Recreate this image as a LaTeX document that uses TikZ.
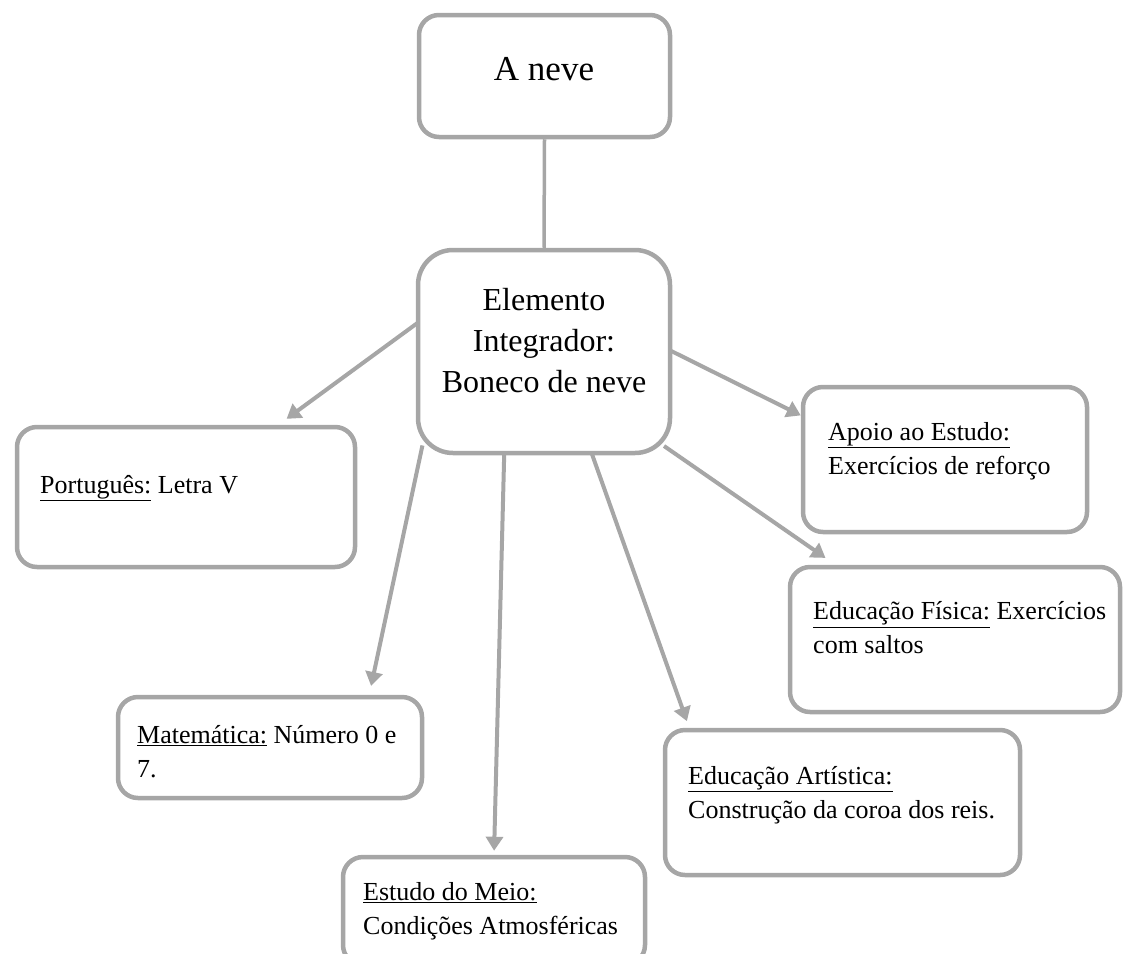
\documentclass[tikz,border=0pt]{standalone}
\usepackage{fontspec}
\setmainfont{Liberation Serif}
\usetikzlibrary{arrows.meta,backgrounds}
\definecolor{linegray}{RGB}{166,166,166}
\tikzset{
  box/.style={draw=linegray, fill=white, line width=4.5pt, rounded corners=20pt, inner sep=0pt},
  txt/.style={inner sep=0pt, align=left, anchor=west, font=\fontsize{26}{34}\selectfont},
  arr/.style={draw=linegray, line width=4pt, shorten <=-10pt, -{Triangle[length=14pt,width=17pt]}},
}
\begin{document}
\begin{tikzpicture}[x=1pt, y=-1pt]
  \useasboundingbox (0,0) rectangle (1129,953);
  \node [box, minimum width=251pt, minimum height=122pt] (aneve) at (544.5,76) {};
  \node [box, rounded corners=35pt, minimum width=252pt, minimum height=203pt] (elem) at (544,351.5) {};
  \node [box, minimum width=338pt, minimum height=140pt] (port) at (186,497) {};
  \node [box, minimum width=284pt, minimum height=145pt] (apoio) at (945,459.5) {};
  \node [box, minimum width=330pt, minimum height=145pt] (fis) at (955,639.5) {};
  \node [box, minimum width=304pt, minimum height=101pt] (mat) at (270,747.5) {};
  \node [box, minimum width=302pt, minimum height=108pt] (est) at (494,911) {};
  \node [box, minimum width=355pt, minimum height=145pt] (art) at (842.5,802.5) {};
  \node [inner sep=0pt, font=\fontsize{35}{40}\selectfont] (aneveTxt) at (544,69) {A neve};
  \node [inner sep=0pt, align=center, font=\fontsize{32}{41}\selectfont] (elemTxt) at (544,341) {Elemento\\Integrador:\\Boneco de neve};
  \node [txt] (portTxt) at (40,488) {\underline{Português:} Letra V};
  \node [txt] (apoioTxt) at (828,451) {\underline{Apoio ao Estudo:}\\Exercícios de reforço};
  \node [txt] (fisTxt) at (813,628) {\underline{Educação Física:} Exercícios\\com saltos};
  \node [txt] (matTxt) at (137,752) {\underline{Matemática:} Número 0 e\\7.};
  \node [txt] (estTxt) at (363,911) {\underline{Estudo do Meio:}\\Condições Atmosféricas};
  \node [txt] (artTxt) at (688,795) {\underline{Educação Artística:}\\Construção da coroa dos reis.};
  \begin{scope}[on background layer]
    \draw [draw=linegray, line width=3.5pt] (aneve.south) -- (elem.north);
    \draw [arr, shorten >=10pt] (elem.168) -- (port.38);
    \draw [arr] (elem.east) -- (apoio.163);
    \draw [arr, shorten >=12pt] (elem.322) -- (fis.148);
    \draw [arr, shorten >=9pt] (elem.220) -- (mat.28);
    \draw [arr, shorten >=4pt] (elem.249) -- (est.north);
    \draw [arr, shorten >=7pt] (elem.295) -- (art.154);
  \end{scope}
\end{tikzpicture}
\end{document}
